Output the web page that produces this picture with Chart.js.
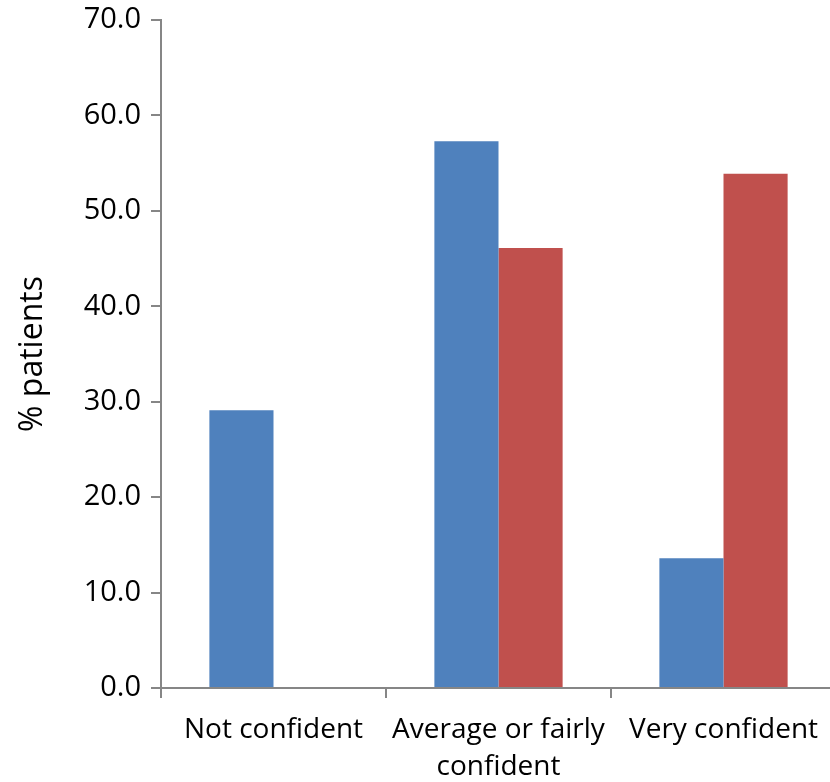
<!DOCTYPE html>
<html>
<head>
<meta charset="utf-8">
<script src="https://cdn.jsdelivr.net/npm/chart.js@4.4.0/dist/chart.umd.min.js"></script>
<style>
    html, body { margin: 0; padding: 0; background: #fff; overflow: hidden; }
    #wrap { width: 836px; height: 782px; position: relative; }
</style>
</head>
<body>
<div id="wrap"><canvas id="confChart"></canvas></div>
<script>
    // Data
    const categories = [['Not confident'], ['Average or fairly', 'confident'], ['Very confident']];
    const seriesBlue = [29.1, 57.3, 13.6];
    const seriesRed = [0, 46.1, 53.9];
    const yTicks = [0, 10, 20, 30, 40, 50, 60, 70];

    const axisGrey = '#868686';
    const family = 'Open Sans, Liberation Sans, sans-serif';

    const ctx = document.getElementById('confChart').getContext('2d');

    new Chart(ctx, {
        type: 'bar',
        data: {
            labels: categories,
            datasets: [
                {
                    label: 'Series 1',
                    data: seriesBlue,
                    backgroundColor: '#4F81BD',
                    borderWidth: 0
                },
                {
                    label: 'Series 2',
                    data: seriesRed,
                    backgroundColor: '#C0504D',
                    borderWidth: 0
                }
            ]
        },
        options: {
            responsive: true,
            maintainAspectRatio: false,
            animation: false,
            layout: { padding: { top: 20, right: 0, left: 0, bottom: 0 } },
            plugins: {
                legend: { display: false },
                tooltip: { enabled: false }
            },
            datasets: {
                bar: { categoryPercentage: 0.57, barPercentage: 1.0 }
            },
            scales: {
                x: {
                    grid: {
                        display: true,
                        offset: true,
                        drawOnChartArea: false,
                        drawTicks: true,
                        tickLength: 10,
                        color: axisGrey,
                        lineWidth: 2
                    },
                    border: { display: true, color: axisGrey, width: 2 },
                    ticks: {
                        color: '#000',
                        font: { family: family, size: 28, lineHeight: 1.32 },
                        padding: 14,
                        maxRotation: 0,
                        autoSkip: false
                    },
                    afterFit: function (scale) {
                        scale.height = 94;
                        scale.paddingLeft = 0;
                        scale.paddingRight = 0;
                    }
                },
                y: {
                    min: 0,
                    max: 70,
                    afterBuildTicks: function (scale) {
                        scale.ticks = yTicks.map(v => ({ value: v }));
                    },
                    grid: {
                        display: true,
                        drawOnChartArea: false,
                        drawTicks: true,
                        tickLength: 10,
                        color: axisGrey,
                        lineWidth: 2
                    },
                    border: { display: true, color: axisGrey, width: 2 },
                    ticks: {
                        color: '#000',
                        font: { family: family, size: 29 },
                        padding: 10,
                        callback: function (value) { return Number(value).toFixed(1); }
                    },
                    title: {
                        display: true,
                        text: '% patients',
                        color: '#000',
                        font: { family: family, size: 32 },
                        padding: { top: 14, bottom: 8 }
                    },
                    afterFit: function (scale) {
                        scale.width = 161;
                        scale.paddingTop = 0;
                        scale.paddingBottom = 0;
                    }
                }
            }
        }
    });
</script>
</body>
</html>
